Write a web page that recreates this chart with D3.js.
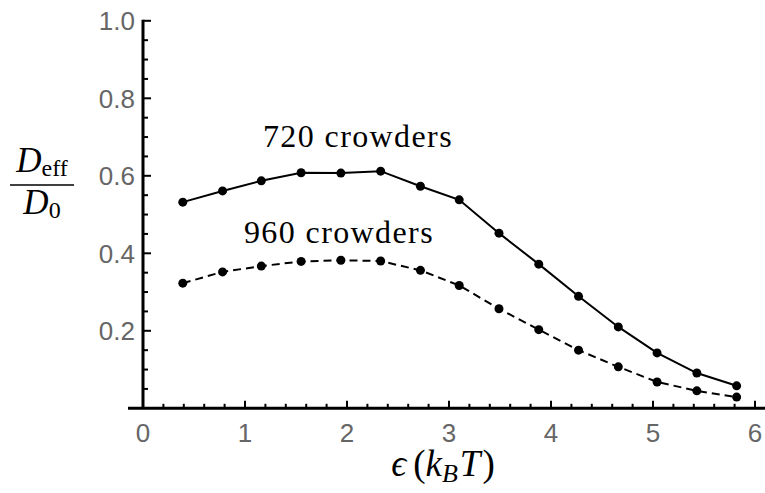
<!DOCTYPE html>
<html>
<head>
<meta charset="utf-8">
<script src="https://cdn.jsdelivr.net/npm/d3@7"></script>
<style>
  html, body { margin: 0; padding: 0; background: #fff; }
  svg { display: block; }
  .tick-label { font-family: "Liberation Sans", Arial, sans-serif; font-size: 26px; fill: #666; }
  .serif { font-family: "Liberation Serif", "DejaVu Serif", serif; fill: #000; }
</style>
</head>
<body>
<svg id="chart" width="765" height="493"></svg>
<script>
// Interaction strength epsilon (in k_B T)
const epsilon = [0.39, 0.78, 1.16, 1.55, 1.94, 2.33, 2.72, 3.10, 3.49, 3.88, 4.27, 4.66, 5.04, 5.43, 5.82];
// Effective diffusion coefficient relative to free diffusion
const crowders720 = [0.532, 0.561, 0.587, 0.608, 0.607, 0.612, 0.573, 0.538, 0.452, 0.372, 0.289, 0.210, 0.143, 0.091, 0.058];
const crowders960 = [0.323, 0.352, 0.367, 0.379, 0.382, 0.380, 0.356, 0.317, 0.257, 0.203, 0.150, 0.107, 0.068, 0.045, 0.029];
const seriesNames = ["720 crowders", "960 crowders"];
const xTicks = [0, 1, 2, 3, 4, 5, 6];
const yTicks = [0.2, 0.4, 0.6, 0.8, 1.0];

const svg = d3.select("#chart");
const x = d3.scaleLinear().domain([0, 6]).range([143, 755]);
const y = d3.scaleLinear().domain([0, 1]).range([408.3, 20.8]);

// Data curves
const line = d3.line().x((d, i) => x(epsilon[i])).y(d => y(d));
const series = [
  { name: seriesNames[0], values: crowders720, dash: null, lx: 358, ly: 147 },
  { name: seriesNames[1], values: crowders960, dash: "8,5", lx: 339, ly: 243 }
];
series.forEach(s => {
  svg.append("path")
    .attr("d", line(s.values))
    .attr("fill", "none")
    .attr("stroke", "#000")
    .attr("stroke-width", 2)
    .attr("stroke-dasharray", s.dash);
  svg.append("g").selectAll("circle")
    .data(s.values)
    .join("circle")
    .attr("cx", (d, i) => x(epsilon[i]))
    .attr("cy", d => y(d))
    .attr("r", 4.5)
    .attr("fill", "#000");
  svg.append("text")
    .attr("class", "serif")
    .attr("x", s.lx)
    .attr("y", s.ly)
    .attr("text-anchor", "middle")
    .style("font-size", "32px")
    .style("letter-spacing", "1.4px")
    .text(s.name);
});

// Axes
const axisColor = "#000";
svg.append("line")
  .attr("x1", 128).attr("x2", 765)
  .attr("y1", y(0)).attr("y2", y(0))
  .attr("stroke", axisColor).attr("stroke-width", 3);
svg.append("line")
  .attr("x1", x(0)).attr("x2", x(0))
  .attr("y1", y(0)).attr("y2", y(1) - 1)
  .attr("stroke", axisColor).attr("stroke-width", 3);

// x ticks: majors every 1, minors every 0.2
const xMinor = d3.range(0, 31).map(i => i / 5).filter(v => Math.abs(v - Math.round(v)) > 1e-6);
svg.append("g").selectAll("line.xmin").data(xMinor).join("line")
  .attr("x1", d => x(d)).attr("x2", d => x(d))
  .attr("y1", y(0)).attr("y2", y(0) - 4.5)
  .attr("stroke", axisColor).attr("stroke-width", 2);
svg.append("g").selectAll("line.xmaj").data(xTicks.filter(d => d > 0)).join("line")
  .attr("x1", d => x(d)).attr("x2", d => x(d))
  .attr("y1", y(0)).attr("y2", y(0) - 7.5)
  .attr("stroke", axisColor).attr("stroke-width", 2);
svg.append("g").selectAll("text").data(xTicks).join("text")
  .attr("class", "tick-label")
  .attr("x", d => x(d))
  .attr("y", 442)
  .attr("text-anchor", "middle")
  .text(d => d3.format("d")(d));

// y ticks: majors every 0.2, minors every 0.05
const yMinor = d3.range(1, 20).map(i => i / 20).filter(v => Math.abs(v * 5 - Math.round(v * 5)) > 1e-6);
svg.append("g").selectAll("line").data(yMinor).join("line")
  .attr("x1", x(0)).attr("x2", x(0) + 5)
  .attr("y1", d => y(d)).attr("y2", d => y(d))
  .attr("stroke", axisColor).attr("stroke-width", 2);
svg.append("g").selectAll("line").data(yTicks).join("line")
  .attr("x1", x(0)).attr("x2", x(0) + 8)
  .attr("y1", d => y(d)).attr("y2", d => y(d))
  .attr("stroke", axisColor).attr("stroke-width", 2);
svg.append("g").selectAll("text").data(yTicks).join("text")
  .attr("class", "tick-label")
  .attr("x", 135)
  .attr("y", d => y(d) + 9.5)
  .attr("text-anchor", "end")
  .text(d => d3.format(".1f")(d));

// y-axis title: D_eff / D_0
const frac = svg.append("g").attr("class", "serif");
const num = frac.append("text").attr("x", 42).attr("y", 172).attr("text-anchor", "middle");
num.append("tspan").style("font-style", "italic").style("font-size", "35px").text("D");
num.append("tspan").style("font-size", "24px").attr("dy", 4).text("eff");
frac.append("line")
  .attr("x1", 10).attr("x2", 74).attr("y1", 185).attr("y2", 185)
  .attr("stroke", "#000").attr("stroke-width", 1.6);
const den = frac.append("text").attr("x", 42).attr("y", 214).attr("text-anchor", "middle");
den.append("tspan").style("font-style", "italic").style("font-size", "35px").text("D");
den.append("tspan").style("font-size", "24px").attr("dy", 4).text("0");

// x-axis title: epsilon (k_B T)
const xt = svg.append("text").attr("class", "serif").attr("x", 443).attr("y", 476)
  .attr("text-anchor", "middle").style("font-size", "37px");
xt.append("tspan").style("font-style", "italic").text("ϵ");
xt.append("tspan").attr("dx", 7).text("(");
xt.append("tspan").style("font-style", "italic").text("k");
xt.append("tspan").style("font-style", "italic").style("font-size", "26px").attr("dy", 6).text("B");
xt.append("tspan").style("font-style", "italic").attr("dy", -6).attr("dx", 2).text("T");
xt.append("tspan").attr("dx", 2).text(")");
</script>
</body>
</html>
